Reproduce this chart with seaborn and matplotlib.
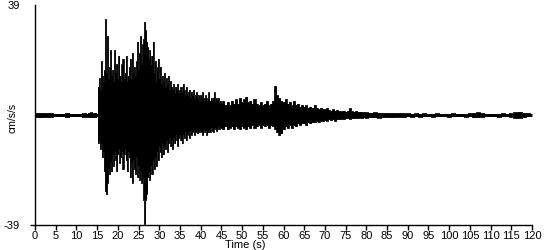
import numpy as np
import pandas as pd
import matplotlib
matplotlib.use("Agg")
import matplotlib.pyplot as plt
import seaborn as sns

# ---- data (peak values per sampling interval, cm/s/s) ----
# 0 - 14.5 s, every 0.5 s
pre_upper = [0.5, 0.7, 0.8, 0.7, 0.8, 0.6, 0.7, 0.8, 0.6, 0.5,
             0.5, 0.5, 0.5, 0.5, 0.5, 0.6, 0.8, 0.5, 0.5, 0.5,
             0.5, 0.5, 0.5, 0.7, 0.6, 0.5, 0.8, 0.9, 0.7, 0.8]
pre_lower = [-0.5, -0.7, -0.8, -0.8, -0.7, -0.6, -0.8, -0.7, -0.6, -0.5,
             -0.5, -0.5, -0.5, -0.5, -0.5, -0.7, -0.8, -0.5, -0.5, -0.5,
             -0.5, -0.5, -0.5, -0.7, -0.6, -0.6, -0.8, -0.8, -0.7, -0.8]
# 15 - 44.75 s, every 0.25 s
strong_upper = [0.5, 10, 13, 9,   19, 14, 12, 16,   34, 15, 28, 13,   17, 23, 14, 16,
                12, 23, 15, 18,   13, 21, 14, 12,   18, 20, 13, 15,   21, 12, 14, 17,
                20, 13, 22, 15,   17, 14, 19, 26,   16, 22, 28, 18,   25, 27, 33, 30,
                26, 24, 20, 23,   18, 21, 26, 15,   19, 12, 17, 20,   13, 17, 11, 14,
                12, 15, 10, 13,   11, 14, 9, 12,    10, 9, 11, 8,     10, 9, 11, 8,
                9, 10, 8, 11,     9, 7, 10, 8,      7, 9, 6, 8,       7, 9, 6, 7,
                8, 6, 7, 5,       7, 6, 8, 5,       6, 7, 5, 6,       8, 5, 6, 5,
                6, 8, 5, 6,       5, 6, 4.5, 5]
strong_lower = [-0.5, -10, -9, -12,  -10, -15, -13, -20,  -27, -28, -24, -19,  -21, -17, -20, -14,
                -18, -13, -16, -20,  -14, -12, -17, -15,  -13, -19, -14, -12,  -16, -20, -13, -15,
                -22, -17, -24, -16,  -19, -21, -15, -22,  -18, -23, -20, -24,  -22, -30, -38.5, -30,
                -28, -22, -20, -23,  -18, -21, -16, -19,  -15, -18, -13, -16,  -11, -13, -15, -10,
                -14, -11, -12, -9,   -13, -10, -8, -11,   -9, -12, -8, -10,    -7, -9, -11, -8,
                -7, -9, -10, -7,     -8, -6, -9, -7,      -6, -8, -5.5, -7,    -6, -5, -7, -6,
                -5, -6.5, -5, -6,    -5, -6, -7, -5,      -6, -5.5, -7, -6,    -5, -6, -4.5, -5.5,
                -6, -5, -4.5, -5.5,  -5, -4, -5, -4.5]
# 45 - 79.5 s, every 0.5 s
coda_upper = [4, 5, 3.5, 4.5, 3.5, 5, 4, 5.5, 4, 6,
              4.5, 5.5, 6.5, 4.5, 5, 4, 5.5, 4, 3.5, 4.5,
              3.5, 4, 5, 3.5, 4, 5, 10.3, 7, 6, 5,
              4.5, 5.5, 4, 4.5, 3.5, 5, 3.5, 4, 3, 3.5,
              3, 3.5, 2.5, 3, 2.5, 3.5, 2.5, 2, 2.5, 2,
              2, 2.5, 1.8, 1.5, 2, 1.5, 1.8, 1.5, 1.3, 1.5,
              1.2, 1.4, 2.4, 1.3, 1.2, 1.4, 1.1, 1.2, 1.0, 1.1]
coda_lower = [-4.5, -5, -4, -5, -4.5, -4, -5, -4, -4.5, -5,
              -4, -4.5, -5, -4, -4.5, -3.5, -4.5, -4, -3.5, -4.5,
              -3.5, -4, -3.5, -4.5, -3.5, -4, -5, -6, -7, -6.5,
              -5, -4, -4.5, -3.5, -4.5, -3.5, -4, -3, -3.5, -3,
              -3, -3.5, -2.5, -3, -2.5, -2.5, -2, -2.5, -2, -2,
              -1.8, -2, -1.5, -1.8, -1.5, -2, -1.4, -1.5, -1.3, -1.4,
              -1.2, -1.1, -1.3, -1.0, -1.2, -1.0, -1.0, -0.9, -1.0, -0.8]
# 80 - 120 s, every 1 s
tail_upper = [0.9, 0.8, 0.9, 0.8, 0.7, 0.8, 0.7, 0.6, 0.7, 0.6,
              0.6, 0.5, 0.6, 0.5, 0.6, 0.5, 0.5, 0.6, 0.5, 0.5,
              0.5, 0.6, 0.5, 0.5, 0.5, 0.6, 0.7, 0.9, 0.6, 0.5,
              0.5, 0.5, 0.5, 0.6, 0.5, 0.6, 0.9, 1.1, 0.7, 0.6, 0.5]
tail_lower = [-0.9, -0.8, -0.8, -0.9, -0.7, -0.7, -0.8, -0.6, -0.6, -0.7,
              -0.5, -0.6, -0.5, -0.6, -0.5, -0.5, -0.6, -0.5, -0.5, -0.5,
              -0.6, -0.5, -0.5, -0.5, -0.6, -0.5, -0.8, -0.7, -0.6, -0.5,
              -0.5, -0.5, -0.6, -0.5, -0.5, -0.6, -1.0, -0.9, -0.7, -0.5, -0.5]

x_ticks = list(range(0, 121, 5))
y_ticks = [-39, 39]
x_label = "Time (s)"
y_label = "cm/s/s"

# sampling times of each segment
t = np.concatenate([np.arange(0, 15, 0.5), np.arange(15, 45, 0.25),
                    np.arange(45, 80, 0.5), np.arange(80, 121, 1.0)])
upper = np.array(pre_upper + strong_upper + coda_upper + tail_upper, dtype=float)
lower = np.array(pre_lower + strong_lower + coda_lower + tail_lower, dtype=float)
df = pd.DataFrame({"t": t, "upper": upper, "lower": lower})

sns.set_style("ticks")
plt.rcParams["font.family"] = ["Liberation Sans", "DejaVu Sans"]

fig = plt.figure(figsize=(5.5, 2.5), dpi=100)
ax = fig.add_axes([35 / 550, 1 - 225 / 250, (532 - 35) / 550, 220 / 250])

ax.fill_between(df["t"], df["lower"], df["upper"], step="mid",
                color="black", linewidth=0, antialiased=False)
sns.lineplot(data=df, x="t", y="upper", drawstyle="steps-mid", color="black",
             linewidth=0.6, ax=ax)
sns.lineplot(data=df, x="t", y="lower", drawstyle="steps-mid", color="black",
             linewidth=0.6, ax=ax)

ax.set_xlim(0, 120)
ax.set_ylim(-39, 39)
ax.set_xticks(x_ticks)
ax.set_xticklabels([str(v) for v in x_ticks])
ax.set_yticks(y_ticks)
ax.set_yticklabels([str(v) for v in y_ticks])
ax.set_xlabel("")
ax.set_ylabel("")

for s in ["top", "right"]:
    ax.spines[s].set_visible(False)
for s in ["left", "bottom"]:
    ax.spines[s].set_color("black")
    ax.spines[s].set_linewidth(1.0)

ax.tick_params(axis="x", length=3.6, width=1, color="black", pad=1,
               labelsize=8, labelcolor="black")
ax.tick_params(axis="y", length=3.6, width=1, color="black", pad=7.2,
               labelsize=8, labelcolor="black")
ax.yaxis.get_major_ticks()[1].tick1line.set_visible(False)

fig.text(245 / 550, 1 - 245 / 250, x_label, ha="center", va="center",
         fontsize=8, color="black")
fig.text(13 / 550, 1 - 118 / 250, y_label, ha="center", va="center",
         rotation=90, fontsize=7.5, color="black")

fig.savefig("out.png", dpi=100, facecolor="white")
